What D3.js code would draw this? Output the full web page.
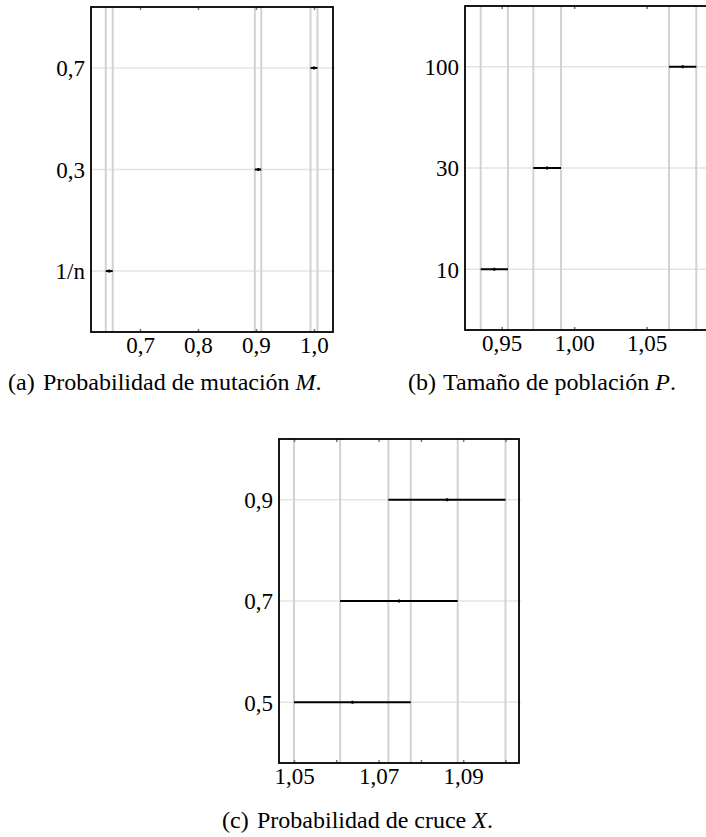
<!DOCTYPE html>
<html>
<head>
<meta charset="utf-8">
<script src="https://cdn.jsdelivr.net/npm/d3@7/dist/d3.min.js"></script>
<style>
  html, body { margin: 0; padding: 0; background: #fff; }
  svg { display: block; }
  svg text { font-family: 'Times New Roman', 'Liberation Serif', Times, 'Nimbus Roman', 'DejaVu Serif', serif; fill: #000; }
</style>
</head>
<body>
<svg id="chart" width="706" height="837"></svg>
<script>
// (a) Mutation probability: comparison intervals per level
const mutLevels = ["1/n", "0,3", "0,7"];
const mutLow  = [0.641, 0.898, 0.994];
const mutMean = [0.647, 0.904, 1.000];
const mutHigh = [0.653, 0.909, 1.006];
const mutTicks = [0.7, 0.8, 0.9, 1.0];
const mutTickLabels = ["0,7", "0,8", "0,9", "1,0"];

// (b) Population size
const popLevels = ["10", "30", "100"];
const popLow  = [0.9355, 0.9718, 1.0654];
const popMean = [0.9449, 0.9813, 1.0748];
const popHigh = [0.9543, 0.9909, 1.0842];
const popTicks = [0.95, 1.00, 1.05];
const popTickLabels = ["0,95", "1,00", "1,05"];

// (c) Crossover probability
const crossLevels = ["0,5", "0,7", "0,9"];
const crossLow  = [1.0500, 1.0609, 1.0723];
const crossMean = [1.0638, 1.0748, 1.0862];
const crossHigh = [1.0776, 1.0887, 1.1000];
const crossTicks = [1.05, 1.06, 1.07, 1.08, 1.09, 1.10];
const crossTickLabels = ["1,05", "", "1,07", "", "1,09", ""];

const FONT = "'Times New Roman', 'Liberation Serif', Times, 'Nimbus Roman', 'DejaVu Serif', serif";
const svg = d3.select("#chart").attr("font-family", FONT);

function panel(o) {
  const g = svg.append("g");
  const x = d3.scaleLinear().domain(o.xDomain).range([o.left, o.right]);
  const y = d3.scaleLinear().domain([-0.6, o.levels.length - 0.4]).range([o.bottom, o.top]);
  const h = o.bottom - o.top;

  // horizontal grid at each level
  g.append("g").selectAll("line").data(o.levels).join("line")
    .attr("x1", o.left).attr("x2", o.right + 2)
    .attr("y1", (d, i) => y(i)).attr("y2", (d, i) => y(i))
    .attr("stroke", "#e4e4e4").attr("stroke-width", 1.5);

  // vertical reference lines at every interval end
  const ends = o.low.concat(o.high);
  g.append("g").selectAll("line").data(ends).join("line")
    .attr("x1", d => x(d)).attr("x2", d => x(d))
    .attr("y1", o.top).attr("y2", o.bottom)
    .attr("stroke", "#d2d2d2").attr("stroke-width", 2);

  // intervals
  g.append("g").selectAll("line").data(o.levels).join("line")
    .attr("x1", (d, i) => x(o.low[i])).attr("x2", (d, i) => x(o.high[i]))
    .attr("y1", (d, i) => y(i)).attr("y2", (d, i) => y(i))
    .attr("stroke", "#000").attr("stroke-width", 2);

  // mean markers
  g.append("g").selectAll("rect").data(o.levels).join("rect")
    .attr("x", (d, i) => x(o.mean[i]) - 1).attr("y", (d, i) => y(i) - 1.5)
    .attr("width", 2).attr("height", 3).attr("fill", "#000");

  // top ticks (inward)
  const top = g.append("g").attr("transform", `translate(0,${o.top})`)
    .call(d3.axisTop(x).tickValues(o.ticks).tickSize(-3).tickFormat(""));
  top.select(".domain").remove();
  top.selectAll(".tick line").attr("stroke", "#777").attr("stroke-width", 1.5);

  // bottom axis with labels (inward ticks)
  const bot = g.append("g").attr("transform", `translate(0,${o.bottom})`)
    .call(d3.axisBottom(x).tickValues(o.ticks).tickSize(-3).tickPadding(8)
      .tickFormat((d, i) => o.tickLabels[i]));
  bot.attr("font-family", FONT).attr("font-size", 23);
  bot.select(".domain").remove();
  bot.selectAll(".tick line").attr("stroke", "#777").attr("stroke-width", 1.5);
  bot.selectAll(".tick text").attr("y", 21).attr("dy", null);

  // level labels
  const left = g.append("g").attr("transform", `translate(${o.left},0)`)
    .call(d3.axisLeft(y).tickValues(d3.range(o.levels.length)).tickSize(0).tickPadding(6)
      .tickFormat(i => o.levels[i]));
  left.attr("font-family", FONT).attr("font-size", 23);
  left.select(".domain").remove();
  left.selectAll(".tick text").attr("dy", "0.34em");

  // frame
  g.append("rect")
    .attr("x", o.left).attr("y", o.top)
    .attr("width", o.right - o.left).attr("height", h)
    .attr("fill", "none").attr("stroke", "#000").attr("stroke-width", 1.8);

  // caption
  const cap = svg.append("text").attr("y", o.capY).attr("font-size", 24);
  cap.append("tspan").attr("x", o.capX).text(o.capTag);
  cap.append("tspan").attr("x", o.capX + 35).text(o.capText + " ");
  cap.append("tspan").attr("font-style", "italic").text(o.capVar);
  cap.append("tspan").text(".");
}

panel({
  levels: mutLevels, low: mutLow, mean: mutMean, high: mutHigh,
  ticks: mutTicks, tickLabels: mutTickLabels,
  xDomain: [0.6155, 1.0328], left: 91, right: 333, top: 7, bottom: 332,
  capX: 8, capY: 390, capTag: "(a)", capText: "Probabilidad de mutación", capVar: "M"
});

panel({
  levels: popLevels, low: popLow, mean: popMean, high: popHigh,
  ticks: popTicks, tickLabels: popTickLabels,
  xDomain: [0.92469, 1.09503], left: 465, right: 712, top: 6, bottom: 330,
  capX: 408, capY: 390, capTag: "(b)", capText: "Tamaño de población", capVar: "P"
});

panel({
  levels: crossLevels, low: crossLow, mean: crossMean, high: crossHigh,
  ticks: crossTicks, tickLabels: crossTickLabels,
  xDomain: [1.04645, 1.10319], left: 279, right: 519, top: 439, bottom: 763,
  capX: 222, capY: 828, capTag: "(c)", capText: "Probabilidad de cruce", capVar: "X"
});
</script>
</body>
</html>
